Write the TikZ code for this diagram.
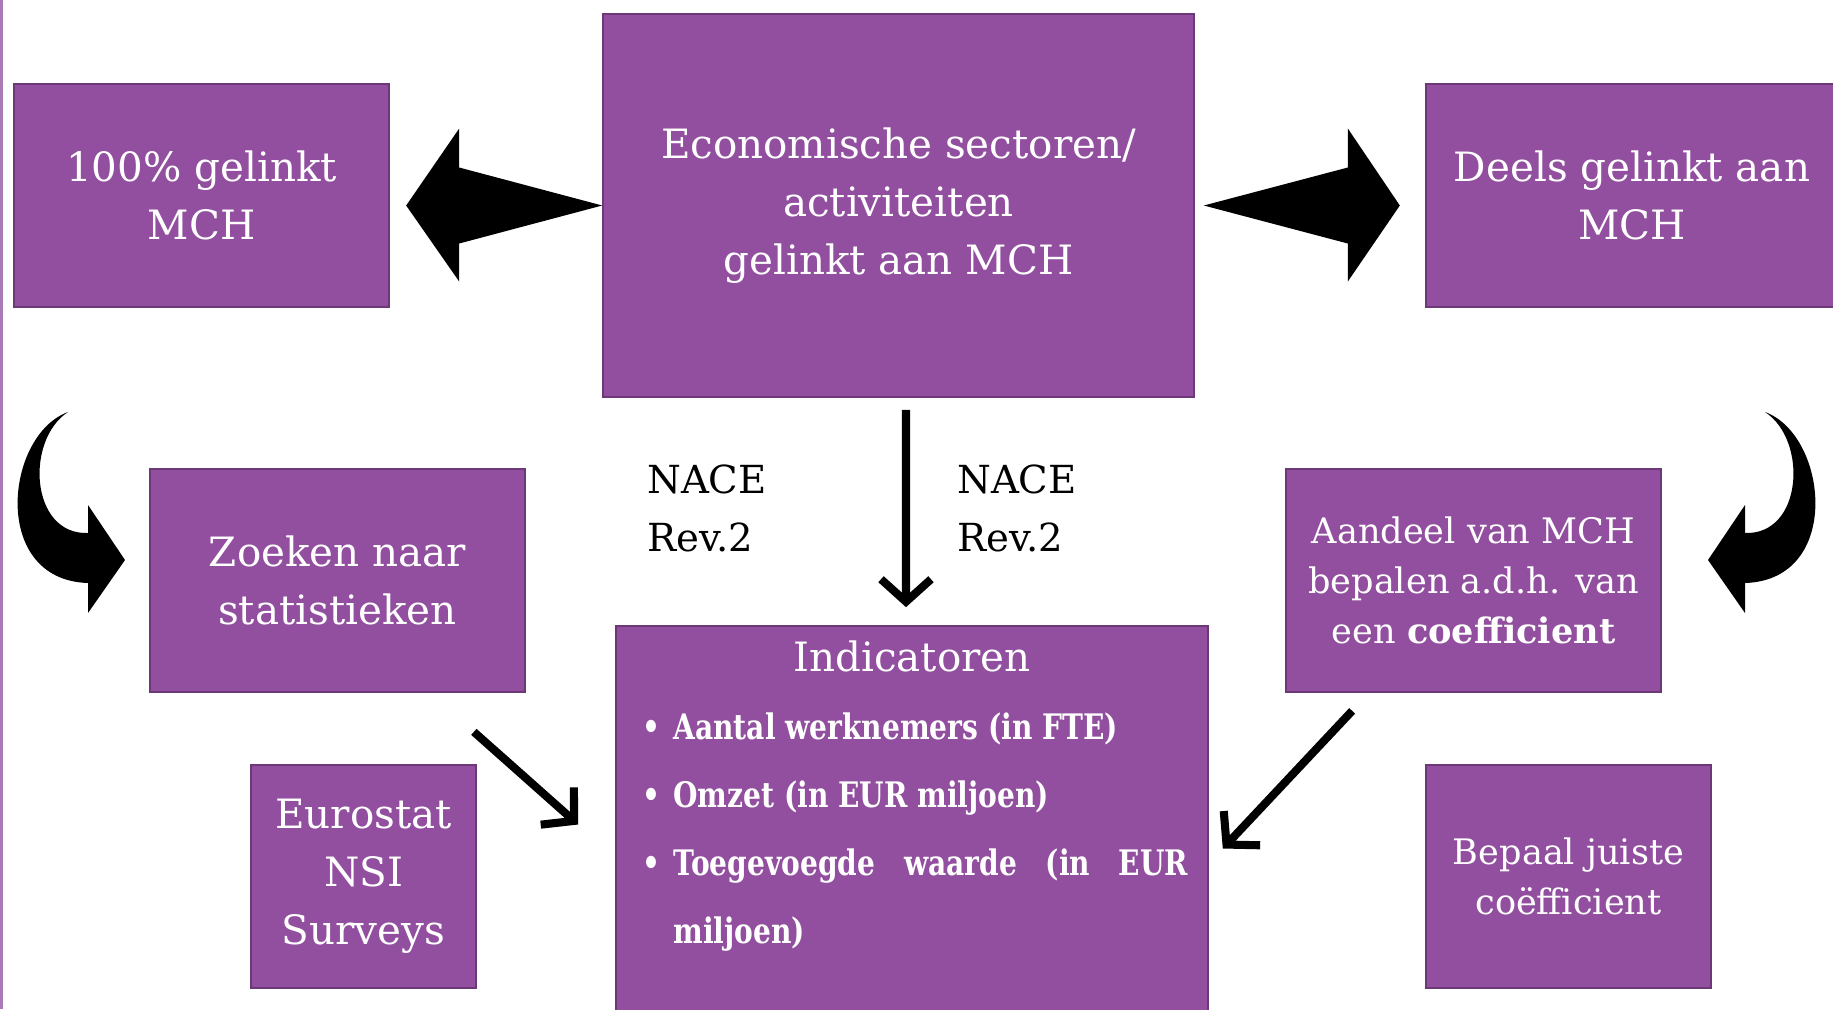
\documentclass[tikz,border=0pt]{standalone}
\usepackage{fontspec}
\setmainfont{DejaVu Serif}
\newfontfamily\lijstfont{DejaVu Serif}[FakeStretch=0.8]
\usetikzlibrary{positioning,calc,arrows.meta}
\definecolor{paars}{RGB}{146,79,159}
\definecolor{paarsrand}{RGB}{108,56,120}
\definecolor{paarslicht}{RGB}{170,122,182}
\newcommand{\punt}[1]{\noindent\hangindent=0.62cm\hangafter=1\makebox[0.62cm][l]{\textbullet}#1\par}
\tikzset{
  blok/.style={draw=paarsrand, fill=paars, line width=1pt, text=white, align=center, inner sep=0pt,
    font=\fontsize{23}{33}\selectfont},
  klein/.style={font=\fontsize{20}{28.5}\selectfont},
  pijl/.style={line width=4.6pt, -{Straight Barb[length=4.5mm,width=10mm]}},
  lijst/.style={text=white, text width=10.92cm, align=justify, inner sep=0pt,
    font=\fontsize{20}{38.7}\lijstfont\bfseries}
}
\begin{document}
\begin{tikzpicture}[x=0.02cm,y=-0.02cm]
\useasboundingbox (0,0) rectangle (1833,1009);
\fill[paarslicht] (0,0) rectangle (3,1009);
% bovenste rij
\node[blok,minimum width=7.5cm,minimum height=4.46cm] (lnk) at (201.5,195.5) {100\% gelinkt\\MCH};
\node[blok,minimum width=11.82cm,minimum height=7.66cm] (eco) at (898.5,205.5) {Economische sectoren/\\activiteiten\\gelinkt aan MCH};
\node[blok,minimum width=8.24cm,minimum height=4.46cm] (dls) at (1632,195.5) {Deels gelinkt aan\\MCH};
% middelste rij
\node[blok,minimum width=7.5cm,minimum height=4.46cm] (zkn) at (337.5,580.5) {Zoeken naar\\statistieken};
\node[blok,klein,minimum width=7.5cm,minimum height=4.46cm] (adl) at (1473.5,580.5) {Aandeel van MCH\\bepalen a.d.h. van\\een \textbf{coefficient}};
\node[align=left,font=\fontsize{22}{33}\selectfont] (nacl) at (707,508) {NACE\\Rev.2};
\node[align=left,font=\fontsize{22}{33}\selectfont] (nacr) at (1017,508) {NACE\\Rev.2};
% onderste rij
\node[blok,minimum width=4.5cm,minimum height=4.46cm] (eur) at (363.5,876.5) {Eurostat\\NSI\\Surveys};
\node[blok,minimum width=11.84cm,minimum height=7.78cm] (ind) at (912,820.5) {};
\node[blok,klein,minimum width=5.7cm,minimum height=4.46cm] (bpl) at (1568.5,876.5) {Bepaal juiste\\coëfficient};
\node[text=white,font=\fontsize{23}{33}\selectfont] (indt) at ($(ind.north)+(0,31)$) {Indicatoren};
\node[lijst,anchor=north west] (indl) at (642,712) {%
\punt{Aantal werknemers (in FTE)}
\punt{Omzet (in EUR miljoen)}
\punt{Toegevoegde waarde (in EUR\linebreak miljoen)}};
% blokpijlen
\fill (eco.west) -- ++(-143,-38) -- ++(0,-39) -- ++(-53,77) -- ++(53,76) -- ++(0,-38) -- cycle;
\fill ($(eco.east)+(9,0)$) -- ++(144,-38) -- ++(0,-39) -- ++(52,77) -- ++(-52,76) -- ++(0,-38) -- cycle;
% gebogen pijlen
\foreach \s/\o in {1/0,-1/1833}{
\begin{scope}[shift={(\o,0)},xscale=\s]
\fill (68,412) .. controls (5,435) and (-10,580) .. (88,583) -- (88,613) -- (125,560) -- (88,505) -- (88,533)
  .. controls (30,535) and (25,440) .. (68,412) -- cycle;
\end{scope}}
% lijnpijlen
\draw[pijl] ($(eco.south)+(7.5,12)$) -- ($(ind.north)+(-6,-18)$);
\draw[pijl] ($(zkn.south east)+(-52,39)$) -- ($(ind.west)+(-37,4)$);
\draw[pijl] ($(adl.south west)+(67,18)$) -- ($(ind.east)+(14,28)$);
\end{tikzpicture}
\end{document}
